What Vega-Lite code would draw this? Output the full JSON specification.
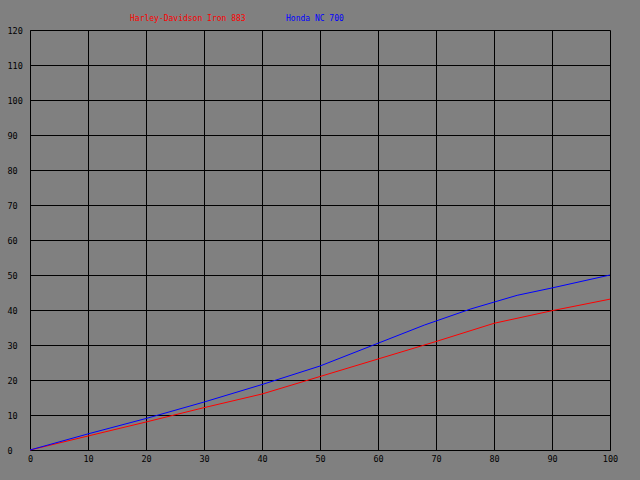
{
  "$schema": "https://vega.github.io/schema/vega-lite/v6.json",
  "width": 580,
  "height": 420,
  "autosize": {"type": "none"},
  "padding": {"left": 30, "top": 30, "right": 30, "bottom": 30},
  "background": "#808080",
  "config": {
    "view": {"stroke": null},
    "font": "DejaVu Sans Mono",
    "axis": {
      "grid": true,
      "gridColor": "#000000",
      "gridOpacity": 1,
      "gridWidth": 1,
      "domainColor": "#000000",
      "domainWidth": 1,
      "ticks": false,
      "labelFont": "DejaVu Sans Mono",
      "labelFontSize": 8.5,
      "labelColor": "#000000",
      "title": null
    }
  },
  "data": {
    "values": [
      {"speed": 0, "value": 0, "model": "Harley-Davidson Iron 883"},
      {"speed": 10, "value": 4.0, "model": "Harley-Davidson Iron 883"},
      {"speed": 20, "value": 8.0, "model": "Harley-Davidson Iron 883"},
      {"speed": 30, "value": 12.1, "model": "Harley-Davidson Iron 883"},
      {"speed": 40, "value": 16.0, "model": "Harley-Davidson Iron 883"},
      {"speed": 50, "value": 21.0, "model": "Harley-Davidson Iron 883"},
      {"speed": 60, "value": 26.0, "model": "Harley-Davidson Iron 883"},
      {"speed": 70, "value": 31.0, "model": "Harley-Davidson Iron 883"},
      {"speed": 80, "value": 36.2, "model": "Harley-Davidson Iron 883"},
      {"speed": 90, "value": 39.8, "model": "Harley-Davidson Iron 883"},
      {"speed": 100, "value": 43.1, "model": "Harley-Davidson Iron 883"},
      {"speed": 0, "value": 0, "model": "Honda NC 700"},
      {"speed": 10, "value": 4.6, "model": "Honda NC 700"},
      {"speed": 20, "value": 9.0, "model": "Honda NC 700"},
      {"speed": 30, "value": 13.7, "model": "Honda NC 700"},
      {"speed": 40, "value": 18.7, "model": "Honda NC 700"},
      {"speed": 50, "value": 24.0, "model": "Honda NC 700"},
      {"speed": 60, "value": 30.5, "model": "Honda NC 700"},
      {"speed": 68, "value": 35.7, "model": "Honda NC 700"},
      {"speed": 76, "value": 40.3, "model": "Honda NC 700"},
      {"speed": 84, "value": 44.2, "model": "Honda NC 700"},
      {"speed": 90, "value": 46.3, "model": "Honda NC 700"},
      {"speed": 100, "value": 50.0, "model": "Honda NC 700"}
    ]
  },
  "mark": {"type": "line", "strokeWidth": 1},
  "encoding": {
    "x": {
      "field": "speed",
      "type": "quantitative",
      "scale": {"domain": [0, 100], "nice": false},
      "axis": {"values": [0,10,20,30,40,50,60,70,80,90,100], "labelPadding": 4, "labelFlush": false}
    },
    "y": {
      "field": "value",
      "type": "quantitative",
      "scale": {"domain": [0, 120], "nice": false},
      "axis": {"values": [0,10,20,30,40,50,60,70,80,90,100,110,120], "labelAlign": "left", "labelPadding": 23, "labelFlush": false}
    },
    "color": {
      "field": "model",
      "type": "nominal",
      "scale": {"domain": ["Harley-Davidson Iron 883", "Honda NC 700"], "range": ["#ff0000", "#0000ff"]},
      "legend": {
        "title": null,
        "orient": "none",
        "direction": "horizontal",
        "legendX": 92,
        "legendY": -15,
        "symbolSize": 0,
        "symbolOpacity": 0,
        "symbolStrokeWidth": 0,
        "labelOffset": 0,
        "columnPadding": 32,
        "labelFont": "DejaVu Sans Mono",
        "labelFontSize": 8,
        "encode": {"labels": {"update": {"fill": {"scale": "color", "field": "value"}}}}
      }
    }
  }
}
